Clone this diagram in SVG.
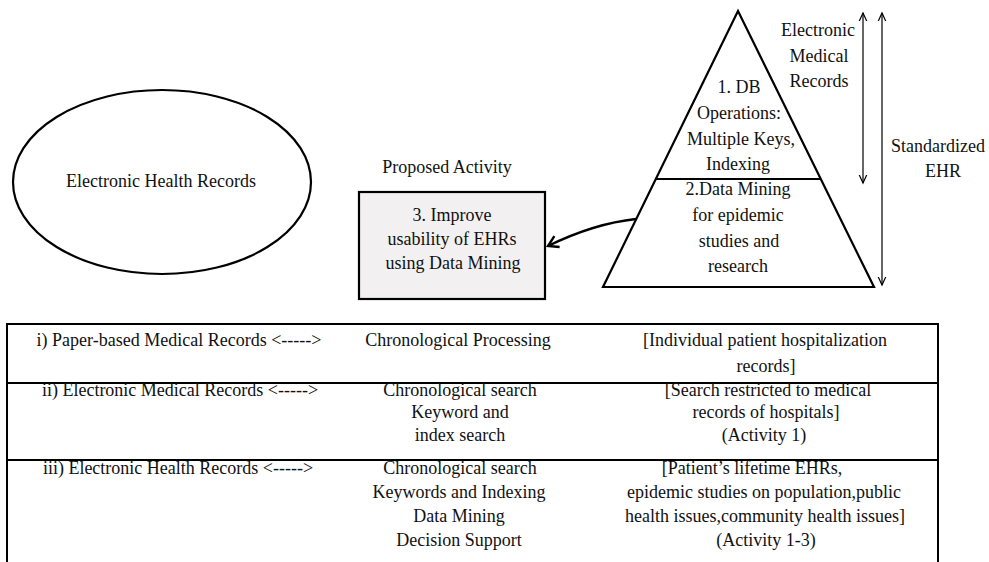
<svg xmlns="http://www.w3.org/2000/svg" width="989" height="562" viewBox="0 0 989 562">
<defs>
<style>
text{font-family:"Liberation Serif","Times New Roman",serif;font-size:18px;fill:#111;text-anchor:middle}
.shape{fill:none;stroke:#000;stroke-width:2.2}
.thin{fill:none;stroke:#000;stroke-width:1.2}
.tbl{fill:none;stroke:#000;stroke-width:2}
</style>
<marker id="vhead" viewBox="-8 -8 16 16" markerWidth="16" markerHeight="16" refX="0" refY="0" orient="auto-start-reverse" markerUnits="userSpaceOnUse">
<path d="M-13,-6 L0,0 L-13,6" fill="none" stroke="#000" stroke-width="1.2"/>
</marker>
<marker id="chead" viewBox="-12 -8 14 16" markerWidth="14" markerHeight="16" refX="0" refY="0" orient="auto" markerUnits="userSpaceOnUse">
<path d="M-10,-6 L0,0 L-10,6" fill="none" stroke="#000" stroke-width="2.4"/>
</marker>
</defs>
<rect width="989" height="562" fill="#fff"/>

<g id="ehr-ellipse">
<ellipse class="shape" cx="162" cy="182" rx="149" ry="92"/>
<text x="161" y="187">Electronic Health Records</text>
</g>

<g id="proposed-activity">
<text x="447" y="173">Proposed Activity</text>
<rect x="359" y="192" width="186" height="107" fill="#f2f0f0" stroke="#000" stroke-width="2.2"/>
<text x="452" y="221">3. Improve</text>
<text x="452" y="245">usability of EHRs</text>
<text x="453" y="269">using Data Mining</text>
</g>

<g id="pyramid">
<polygon class="shape" points="738,11 603,287 874,287" stroke-width="2.6" stroke-linejoin="miter"/>
<line class="shape" x1="656" y1="179" x2="821" y2="179" stroke-width="2.4"/>
<text x="739" y="93">1. DB</text>
<text x="739" y="119">Operations:</text>
<text x="741" y="145">Multiple Keys,</text>
<text x="738" y="170">Indexing</text>
<text x="738" y="195">2.Data Mining</text>
<text x="738" y="221">for epidemic</text>
<text x="739" y="247">studies and</text>
<text x="738" y="272">research</text>
</g>

<g id="emr-label">
<text x="818" y="36">Electronic</text>
<text x="819" y="62">Medical</text>
<text x="819" y="87">Records</text>
</g>

<g id="std-ehr-label">
<text x="938" y="152">Standardized</text>
<text x="943" y="177">EHR</text>
</g>

<g id="connectors">
<line class="thin" x1="863" y1="13" x2="863" y2="183" marker-start="url(#vhead)" marker-end="url(#vhead)"/>
<line class="thin" x1="882" y1="13" x2="882" y2="285" marker-start="url(#vhead)" marker-end="url(#vhead)"/>
<path d="M636,219 Q594,223.5 548,246" fill="none" stroke="#000" stroke-width="2.4" marker-end="url(#chead)"/>
</g>

<g id="table">
<path class="tbl" d="M7,570 L7,324 L938,324 L938,570"/>
<line class="tbl" x1="7" y1="383" x2="938" y2="383"/>
<line class="tbl" x1="7" y1="460" x2="938" y2="460"/>
<text x="179" y="346">i) Paper-based Medical Records &lt;-----&gt;</text>
<text x="458" y="346">Chronological Processing</text>
<text x="765" y="346">[Individual patient hospitalization</text>
<text x="766" y="372">records]</text>

<text x="180" y="396">ii) Electronic Medical Records &lt;-----&gt;</text>
<text x="460" y="396">Chronological search</text>
<text x="460" y="418">Keyword and</text>
<text x="460" y="441">index search</text>
<text x="768" y="396">[Search restricted to medical</text>
<text x="766" y="418">records of hospitals]</text>
<text x="764" y="441">(Activity 1)</text>

<text x="178" y="474">iii) Electronic Health Records &lt;-----&gt;</text>
<text x="460" y="474">Chronological search</text>
<text x="459" y="498">Keywords and Indexing</text>
<text x="459" y="522">Data Mining</text>
<text x="459" y="546">Decision Support</text>
<text x="752" y="474">[Patient’s lifetime EHRs,</text>
<text x="764" y="498">epidemic studies on population,public</text>
<text x="765" y="522">health issues,community health issues]</text>
<text x="766" y="546">(Activity 1-3)</text>
</g>
</svg>
